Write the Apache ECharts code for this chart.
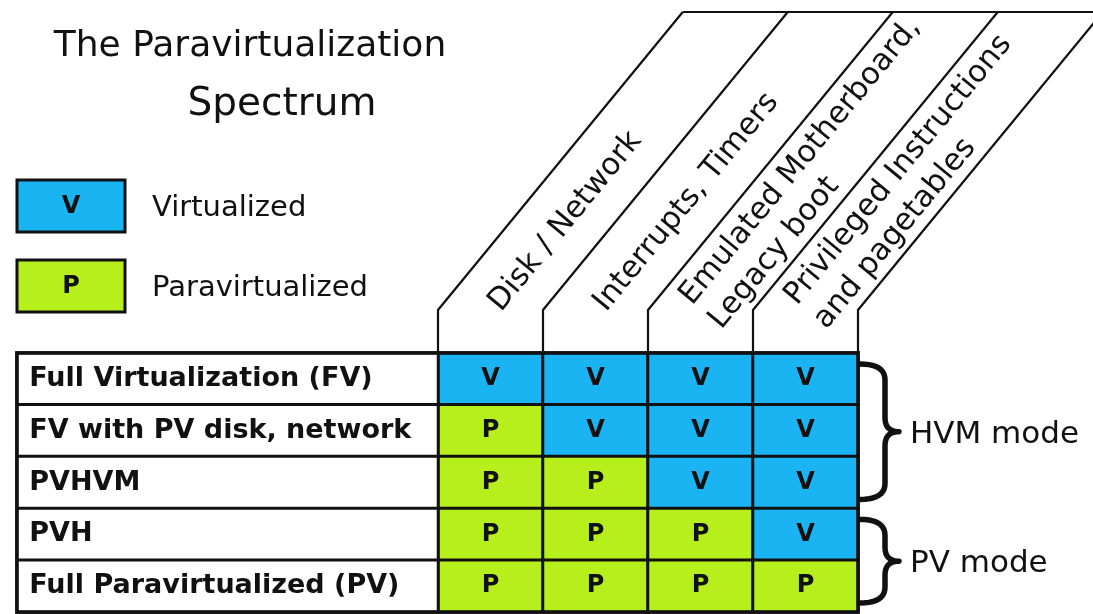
<!DOCTYPE html>
<html><head><meta charset="utf-8">
<script src="https://cdn.jsdelivr.net/npm/echarts@6/dist/echarts.min.js"></script>
<style>html,body{margin:0;padding:0;background:#fff}#c{width:1093px;height:614px}</style>
</head><body><div id="c"></div>
<script>
// ---- data ----
const titleLines = ['The Paravirtualization', 'Spectrum'];
const columns = ['Disk / Network', 'Interrupts, Timers', 'Emulated Motherboard,\nLegacy boot', 'Privileged Instructions\nand pagetables'];
const modes = ['Full Virtualization (FV)', 'FV with PV disk, network', 'PVHVM', 'PVH', 'Full Paravirtualized (PV)'];
const rowFV   = ['V', 'V', 'V', 'V'];
const rowFVPV = ['P', 'V', 'V', 'V'];
const rowPVHVM= ['P', 'P', 'V', 'V'];
const rowPVH  = ['P', 'P', 'P', 'V'];
const rowPV   = ['P', 'P', 'P', 'P'];
const cellValues = [rowFV, rowFVPV, rowPVHVM, rowPVH, rowPV];
const legendKeys = ['V', 'P'];
const legendNames = ['Virtualized', 'Paravirtualized'];
const groupNames = ['HVM mode', 'PV mode'];
const groupFirstRow = [0, 3];
const groupLastRow = [2, 4];

// ---- style ----
const BLUE = '#1ab4f2', GREEN = '#b6ef1c', INK = '#111';
const FONT = 'DejaVu Sans';
const SLANT = 50.6; // degrees

const chart = echarts.init(document.getElementById('c'), null, {renderer: 'canvas'});
const cells = [];
cellValues.forEach((row, r) => row.forEach((v, c) => cells.push([c, r, v === 'V' ? 1 : 0])));

// single-line headers sit a little higher in their slanted band than two-line ones
const headerData = columns.map(name => ({
  value: name,
  textStyle: {padding: name.indexOf('\n') < 0 ? [0, 0, 66, 7] : [0, 0, 48, 0]}
}));

chart.setOption({
  backgroundColor: '#fff',
  animation: false,
  title: [
    {text: titleLines[0], left: 250, top: 29, textAlign: 'center', padding: 0,
     textStyle: {fontFamily: FONT, fontWeight: 'normal', fontSize: 36, color: INK}},
    {text: titleLines[1], left: 282, top: 85, textAlign: 'center', padding: 0,
     textStyle: {fontFamily: FONT, fontWeight: 'normal', fontSize: 39, color: INK}}
  ],
  grid: [
    {left: 438, top: 353, width: 420, height: 259, outerBoundsMode: 'none', containLabel: false},
    {left: 17, top: 353, width: 421, height: 259, outerBoundsMode: 'none', containLabel: false}
  ],
  xAxis: [
    {type: 'category', gridIndex: 0, data: headerData, position: 'top',
     axisLine: {show: false}, axisTick: {show: false}, splitLine: {show: false},
     axisLabel: {interval: 0, rotate: -SLANT, align: 'left', verticalAlign: 'middle', margin: 40,
       fontFamily: FONT, fontSize: 30.5, lineHeight: 38, color: INK}},
    {type: 'category', gridIndex: 1, data: ['mode'], show: false}
  ],
  yAxis: [
    {type: 'category', gridIndex: 0, data: modes, inverse: true, show: false},
    {type: 'category', gridIndex: 1, data: modes, inverse: true, show: false}
  ],
  visualMap: {type: 'piecewise', show: false, seriesIndex: 0, dimension: 2,
    pieces: [{value: 1, color: BLUE}, {value: 0, color: GREEN}]},
  series: [
    {type: 'heatmap', xAxisIndex: 0, yAxisIndex: 0, data: cells,
     itemStyle: {borderColor: INK, borderWidth: 3},
     label: {show: true, formatter: p => cellValues[p.data[1]][p.data[0]],
       fontFamily: FONT, fontWeight: 'bold', fontSize: 24, color: INK},
     emphasis: {disabled: true}},
    {type: 'heatmap', xAxisIndex: 1, yAxisIndex: 1, data: modes.map((m, i) => [0, i, 0]),
     itemStyle: {color: '#fff', borderColor: INK, borderWidth: 3},
     label: {show: true, position: 'insideLeft', distance: 14, formatter: p => modes[p.data[1]],
       fontFamily: FONT, fontWeight: 'bold', fontSize: 27, color: INK},
     emphasis: {disabled: true}}
  ]
});

// ---- decorations positioned from the axes ----
const c0 = chart.convertToPixel({xAxisIndex: 0}, 0);
const c1 = chart.convertToPixel({xAxisIndex: 0}, 1);
const band = c1 - c0;
const r0 = chart.convertToPixel({yAxisIndex: 0}, 0);
const r1 = chart.convertToPixel({yAxisIndex: 0}, 1);
const rowH = r1 - r0;
const tableTop = r0 - rowH / 2;
const tableBottom = chart.convertToPixel({yAxisIndex: 0}, modes.length - 1) + rowH / 2;
const tableRight = chart.convertToPixel({xAxisIndex: 0}, columns.length - 1) + band / 2;
const kneeY = 310, topY = 12;
const dx = (kneeY - topY) / Math.tan(SLANT * Math.PI / 180);

const graphics = [];
for (let i = 0; i <= columns.length; i++) {
  const bx = c0 - band / 2 + i * band;
  graphics.push({type: 'polyline', silent: true,
    shape: {points: [[bx, tableTop], [bx, kneeY], [bx + dx, topY]]},
    style: {stroke: INK, lineWidth: 2.2, fill: null}});
}
graphics.push({type: 'line', silent: true,
  shape: {x1: c0 - band / 2 + dx, y1: topY, x2: 1100, y2: topY},
  style: {stroke: INK, lineWidth: 2.2}});
// outer table border
graphics.push({type: 'rect', silent: true, z: 10,
  shape: {x: 17, y: tableTop, width: tableRight - 17, height: tableBottom - tableTop},
  style: {stroke: INK, lineWidth: 3.5, fill: null}});

// quadratic curve sampler for brace outline
function quad(p0, p1, p2, n) {
  const pts = [];
  for (let k = 0; k <= n; k++) {
    const t = k / n, u = 1 - t;
    pts.push([u * u * p0[0] + 2 * u * t * p1[0] + t * t * p2[0], u * u * p0[1] + 2 * u * t * p1[1] + t * t * p2[1]]);
  }
  return pts;
}
// braces + group labels
groupNames.forEach((name, g) => {
  const y0 = chart.convertToPixel({yAxisIndex: 0}, groupFirstRow[g]) - rowH / 2 + 11;
  const y1 = chart.convertToPixel({yAxisIndex: 0}, groupLastRow[g]) + rowH / 2 - 9;
  const ym = (y0 + y1) / 2;
  const x0 = tableRight + 2, xm = tableRight + 27, xt = tableRight + 41;
  const pts = [].concat(
    quad([x0, y0], [xm, y0], [xm, y0 + 16], 10),
    quad([xm, ym - 14], [xm, ym], [xt, ym], 10),
    quad([xt, ym], [xm, ym], [xm, ym + 14], 10),
    quad([xm, y1 - 16], [xm, y1], [x0, y1], 10)
  );
  graphics.push({type: 'polyline', silent: true, shape: {points: pts},
    style: {stroke: INK, lineWidth: 5.5, fill: null, lineJoin: 'round', lineCap: 'round'}});
  graphics.push({type: 'text', silent: true, x: tableRight + 52, y: ym + 3,
    style: {text: name, fontFamily: FONT, fontSize: 31, fill: INK, align: 'left', verticalAlign: 'middle'}});
});

// legend
legendKeys.forEach((k, i) => {
  const y = 180 + i * 80;
  graphics.push({type: 'rect', silent: true, shape: {x: 17, y: y, width: 108, height: 52},
    style: {fill: k === 'V' ? BLUE : GREEN, stroke: INK, lineWidth: 3}});
  graphics.push({type: 'text', silent: true, x: 71, y: y + 27,
    style: {text: k, fontFamily: FONT, fontWeight: 'bold', fontSize: 24, fill: INK, align: 'center', verticalAlign: 'middle'}});
  graphics.push({type: 'text', silent: true, x: 152, y: y + 28,
    style: {text: legendNames[i], fontFamily: FONT, fontSize: 29, fill: INK, align: 'left', verticalAlign: 'middle'}});
});

chart.setOption({graphic: graphics});
</script>
</body></html>
